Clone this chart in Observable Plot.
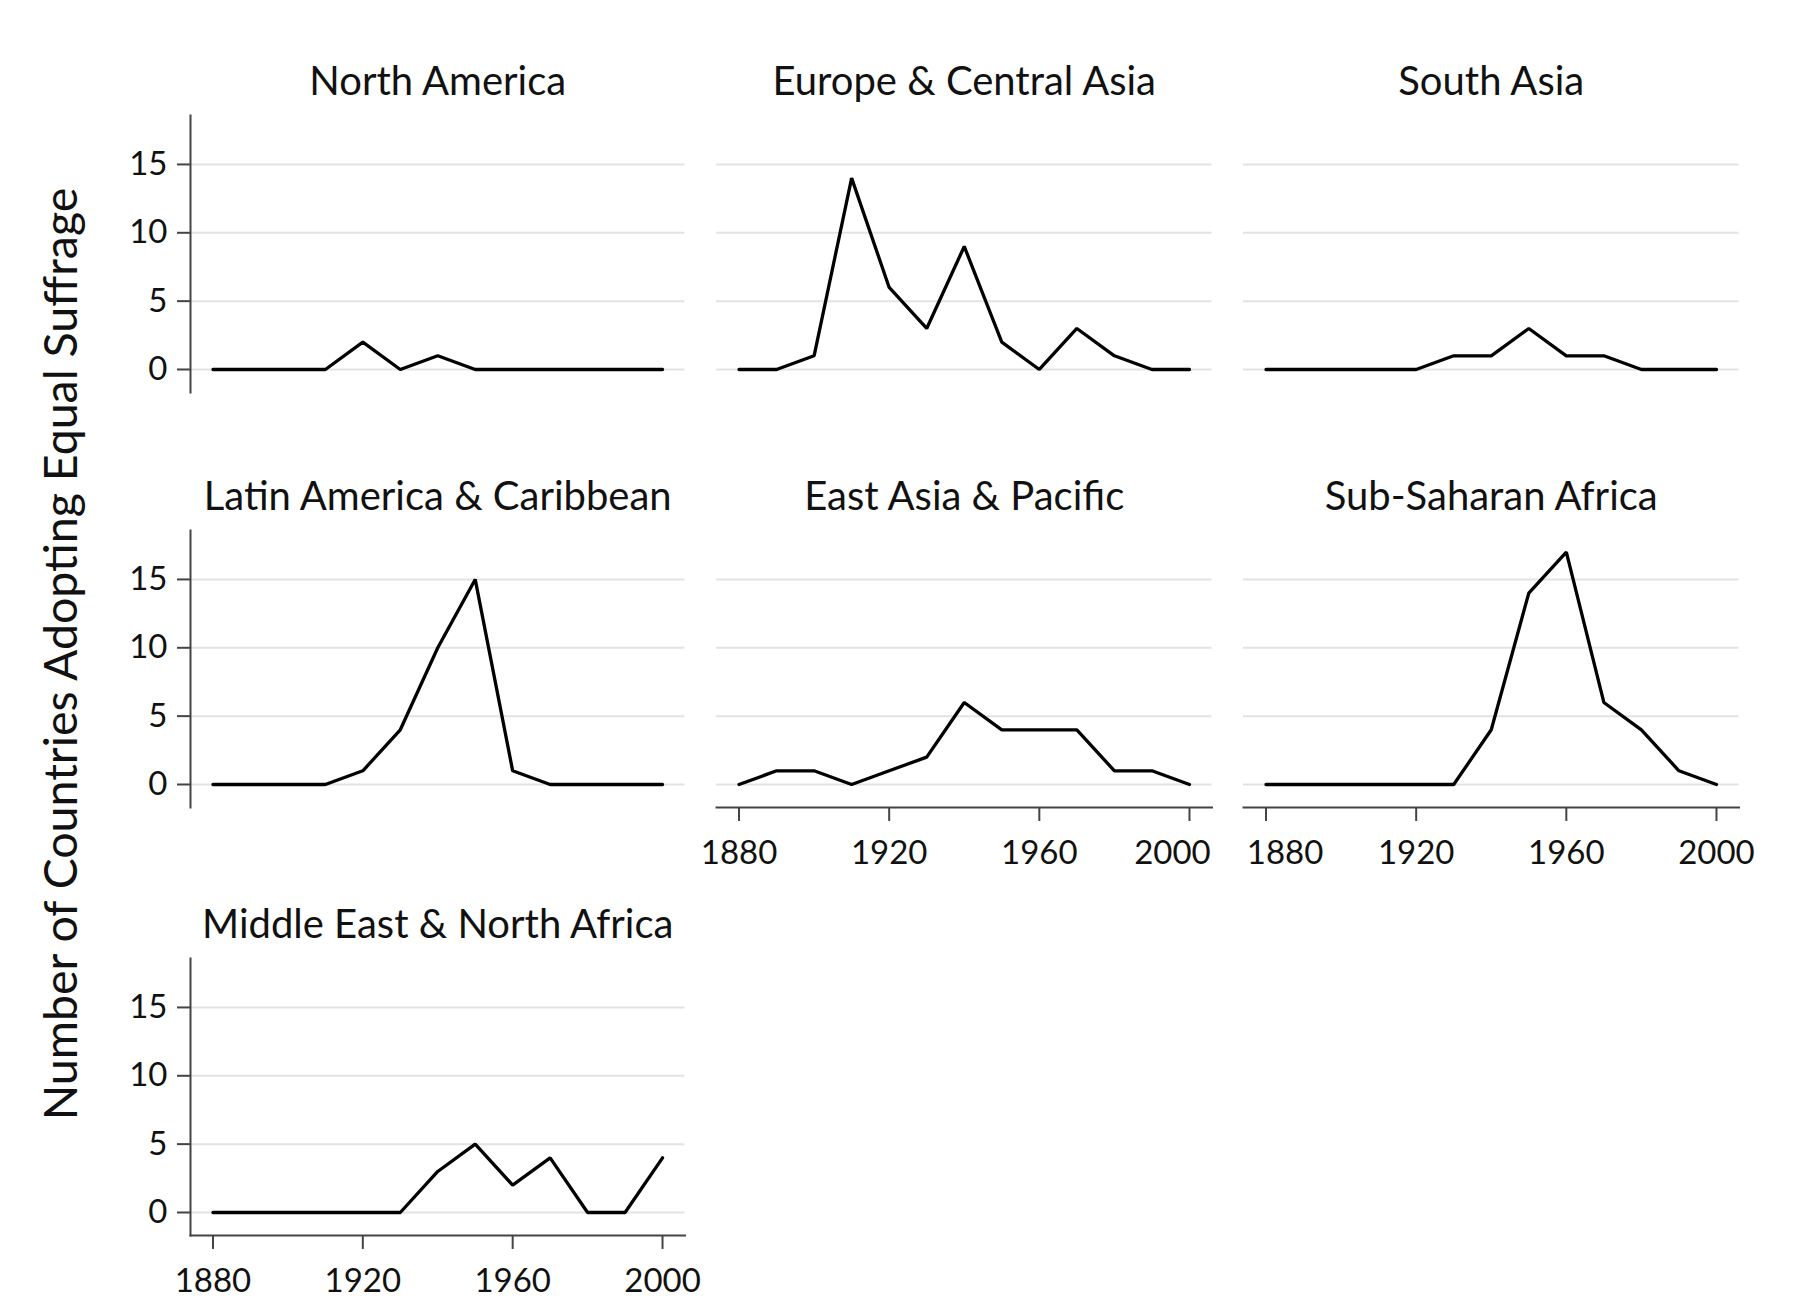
<!DOCTYPE html>
<html><head><meta charset="utf-8">
<script src="https://cdn.jsdelivr.net/npm/d3@7"></script>
<script src="https://cdn.jsdelivr.net/npm/@observablehq/plot@0.6"></script>
<style>
body{margin:0;background:#fff;}
#chart{position:relative;width:1800px;height:1313px;overflow:hidden;font-family:Lato,sans-serif;background:#fff;}
#chart svg{position:absolute;overflow:visible;}
#ylabel{position:absolute;left:59px;top:654px;transform:translate(-50%,-50%) rotate(-90deg);white-space:nowrap;font-size:46.5px;color:#111;font-family:Lato,sans-serif;}
</style></head><body><div id="chart"></div>
<script>
// ---- data ----
const years = [1880,1890,1900,1910,1920,1930,1940,1950,1960,1970,1980,1990,2000];
const regionNames = ["North America","Europe & Central Asia","South Asia","Latin America & Caribbean","East Asia & Pacific","Sub-Saharan Africa","Middle East & North Africa"];
const northAmerica   = [0,0,0,0,2,0,1,0,0,0,0,0,0];
const europeCentral  = [0,0,1,14,6,3,9,2,0,3,1,0,0];
const southAsia      = [0,0,0,0,0,1,1,3,1,1,0,0,0];
const latinAmerica   = [0,0,0,0,1,4,10,15,1,0,0,0,0];
const eastAsia       = [0,1,1,0,1,2,6,4,4,4,1,1,0];
const subSaharan     = [0,0,0,0,0,0,4,14,17,6,4,1,0];
const mena           = [0,0,0,0,0,0,3,5,2,4,0,0,4];
const yTicks = [0,5,10,15];
const xTicks = [1880,1920,1960,2000];
const yAxisLabel = "Number of Countries Adopting Equal Suffrage";

const series = [northAmerica, europeCentral, southAsia, latinAmerica, eastAsia, subSaharan, mena];

// ---- layout ----
const colLeft = [189.5, 715.5, 1242.7];
const colW = [494.5, 495.5, 495.5];
const pxPerUnit = 13.67;
const yDomain = [-1.68, 18.58];
const plotH = (yDomain[1]-yDomain[0]) * pxPerUnit;
const rowZero = [369, 784, 1211.7];
const rowTop = rowZero.map(z => z - yDomain[1]*pxPerUnit);
const mL = 110, mR = 60, mT = 70, mB = 80;
// label nudges where neighbouring panels' tick labels would collide
const labelShift = {4: {2000: -17}, 5: {1880: 19}};

const chart = document.getElementById("chart");
const fmt = d3.format("d");

series.forEach((vals, i) => {
  const r = Math.floor(i/3), c = i%3;
  const data = years.map((yr,k) => ({year: yr, value: vals[k]}));
  const showY = c === 0;
  const showX = (i === 4 || i === 5 || i === 6);
  const marks = [
    Plot.gridY(yTicks, {stroke:"#e3e3e3", strokeOpacity:1, strokeWidth:2}),
  ];
  if (showY) {
    marks.push(Plot.axisY(yTicks, {label:null, tickSize:13, tickPadding:10, fontSize:33, stroke:"#444", strokeWidth:2}));
    marks.push(Plot.frame({anchor:"left", stroke:"#444", strokeWidth:2}));
  }
  if (showX) {
    marks.push(Plot.axisX(xTicks, {label:null, tickSize:14, tickFormat: () => "", stroke:"#444", strokeWidth:2}));
    marks.push(Plot.frame({anchor:"bottom", stroke:"#444", strokeWidth:2}));
    const shifts = labelShift[i] || {};
    const plain = xTicks.filter(t => !(t in shifts));
    marks.push(Plot.text(plain, {x: d => d, text: d => fmt(d), frameAnchor:"bottom", dy: 33, lineAnchor:"top", fontSize:33, fill:"#111"}));
    for (const t of xTicks.filter(t => t in shifts)) {
      marks.push(Plot.text([t], {x: d => d, text: d => fmt(d), frameAnchor:"bottom", dy: 33, dx: shifts[t], lineAnchor:"top", fontSize:33, fill:"#111"}));
    }
  }
  marks.push(Plot.lineY(data, {x:"year", y:"value", stroke:"#000", strokeWidth:3.3, strokeLinejoin:"miter", strokeLinecap:"round"}));
  marks.push(Plot.text([regionNames[i]], {text: d => d, frameAnchor:"top", dy:-20.7, lineAnchor:"bottom", fontSize:40, fill:"#111"}));

  const svg = Plot.plot({
    width: colW[c] + mL + mR,
    height: plotH + mT + mB,
    marginLeft: mL, marginRight: mR, marginTop: mT, marginBottom: mB,
    x: {domain:[1874, 2006], axis:null},
    y: {domain:yDomain, axis:null},
    style: {fontFamily:"Lato, sans-serif", background:"transparent", color:"#111"},
    marks
  });
  svg.style.left = (colLeft[c] - mL) + "px";
  svg.style.top = (rowTop[r] - mT) + "px";
  chart.appendChild(svg);
});

const yl = document.createElement("div");
yl.id = "ylabel";
yl.textContent = yAxisLabel;
chart.appendChild(yl);
</script>
</body></html>
